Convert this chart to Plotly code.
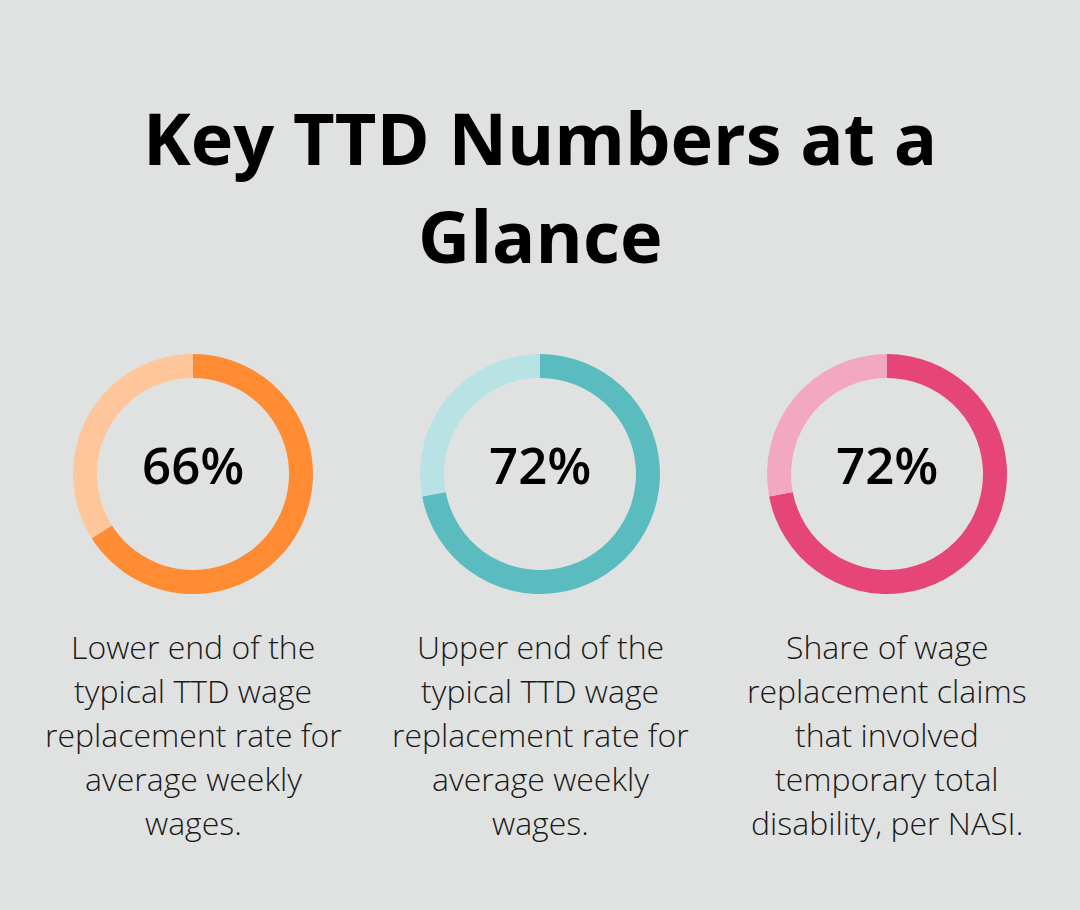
import plotly.graph_objects as go

W, H = 1080, 910

title_lines = ["Key TTD Numbers at a", "Glance"]
values = [66, 72, 72]
labels = ["66%", "72%", "72%"]
main_colors = ["#FF8C33", "#5BBCC0", "#E64577"]
rest_colors = ["#FFC69B", "#B9E2E4", "#F2A8C0"]
descriptions = [
    ["Lower end of the", "typical TTD wage", "replacement rate for", "average weekly", "wages."],
    ["Upper end of the", "typical TTD wage", "replacement rate for", "average weekly", "wages."],
    ["Share of wage", "replacement claims", "that involved", "temporary total", "disability, per NASI."],
]

centers_x = [193, 540, 887]
center_y = 474
R = 120

fig = go.Figure()
annotations = []
for i, v in enumerate(values):
    cx = centers_x[i]
    fig.add_trace(go.Pie(
        values=[v, 100 - v],
        labels=["value", "rest"],
        marker=dict(colors=[main_colors[i], rest_colors[i]], line=dict(width=0)),
        hole=0.8,
        sort=False,
        direction="clockwise",
        rotation=0,
        textinfo="none",
        hoverinfo="none",
        showlegend=False,
        domain=dict(x=[(cx - R) / W, (cx + R) / W],
                    y=[1 - (center_y + R) / H, 1 - (center_y - R) / H]),
    ))
    annotations.append(dict(
        x=cx / W, y=1 - (center_y - 10) / H, xref="paper", yref="paper",
        text=labels[i], showarrow=False, xanchor="center", yanchor="middle",
        font=dict(family="Open Sans", size=51, color="#000000", weight=600),
    ))
    for j, line in enumerate(descriptions[i]):
        ly = 646 + 44 * j
        annotations.append(dict(
            x=cx / W, y=1 - ly / H, xref="paper", yref="paper",
            text=line, showarrow=False, xanchor="center", yanchor="middle",
            font=dict(family="Open Sans", size=32, color="#1a1a1a", weight=300),
        ))

for j, line in enumerate(title_lines):
    ty = 137 + 98 * j
    annotations.append(dict(
        x=0.5, y=1 - ty / H, xref="paper", yref="paper",
        text=line, showarrow=False, xanchor="center", yanchor="middle",
        font=dict(family="Open Sans", size=72, color="#000000", weight=700),
    ))

fig.update_layout(
    width=W, height=H,
    margin=dict(l=0, r=0, t=0, b=0),
    paper_bgcolor="#E0E2E1",
    plot_bgcolor="#E0E2E1",
    annotations=annotations,
)

fig.write_html("out.html")
